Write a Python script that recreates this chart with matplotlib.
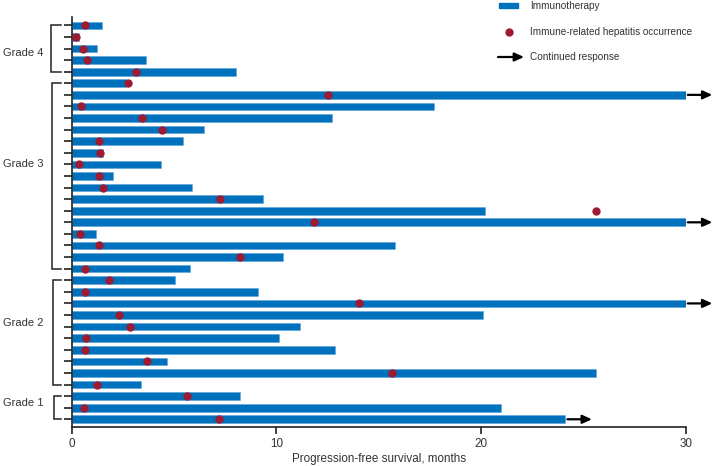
import numpy as np
import matplotlib
matplotlib.use('Agg')
from matplotlib import pyplot as plt
from matplotlib.patches import Rectangle
from matplotlib.lines import Line2D

plt.rcParams['font.family'] = ['Liberation Sans', 'DejaVu Sans']

# one row per patient, top to bottom
grade_labels = ['Grade 4', 'Grade 3', 'Grade 2', 'Grade 1']
group_sizes = [5, 17, 10, 3]

pfs = [1.5, 0.37, 1.26, 3.64, 8.02,
       2.66, 30, 17.72, 12.73, 6.47, 5.45, 1.55, 4.39, 2.01, 5.89, 9.36, 20.2, 30, 1.21, 15.82, 10.33, 5.8,
       5.04, 9.11, 30, 20.1, 11.16, 10.12, 12.86, 4.68, 25.64, 3.41,
       8.25, 21.0, 24.12]
hepatitis = [0.66, 0.24, 0.58, 0.77, 3.15,
             2.76, 12.53, 0.46, 3.44, 4.42, 1.34, 1.38, 0.37, 1.34, 1.55, 7.25, 25.6, 11.86, 0.42, 1.34, 8.22, 0.64,
             1.85, 0.64, 14.06, 2.34, 2.86, 0.71, 0.64, 3.67, 15.66, 1.25,
             5.63, 0.61, 7.2]
continued = [7, 18, 25, 35]  # rows with ongoing response

blue = '#0071BD'
red = '#9E1B32'
txt = '#333333'
arrow_style = '-|>,head_length=0.55,head_width=0.25'

rows = np.arange(1, len(pfs) + 1)

fig = plt.figure(figsize=(7.13, 4.66), dpi=100)
ax = fig.add_axes([71.5 / 713, 1 - 426.7 / 466, (685.7 - 71.5) / 713, (426.7 - 17) / 466])

ax.barh(rows, pfs, height=0.66, color=blue, edgecolor='#5DA5DC', linewidth=0.4, zorder=2)
ax.plot(hepatitis, rows, 'o', color=red, markersize=5, zorder=3, clip_on=False)

for r in continued:
    x0 = pfs[r - 1]
    ax.annotate('', xy=(x0 + 1.3, r), xytext=(x0 + 0.1, r), annotation_clip=False,
                arrowprops=dict(arrowstyle=arrow_style, color='black', lw=1.6, shrinkA=0, shrinkB=0))

ax.set_xlim(0, 30)
ax.set_ylim(35.64, 0.28)
ax.set_xticks([0, 10, 20, 30])
ax.set_yticks(rows)
ax.set_yticklabels([])
ax.tick_params(axis='y', length=6, width=1.2, color='#222222')
ax.tick_params(axis='x', length=5, width=1.2, color='#222222', labelsize=8.4, labelcolor=txt, pad=3)
for s in ['top', 'right']:
    ax.spines[s].set_visible(False)
for s in ['left', 'bottom']:
    ax.spines[s].set_linewidth(1.2)
    ax.spines[s].set_color('#222222')
ax.set_xlabel('Progression-free survival, months', fontsize=8.4, color=txt, labelpad=2)

# grade brackets
bracket_x = [-1.02, -0.94, -0.89, -0.87]
label_y = [3.36, 13.0, 26.7, 33.56]
start = 1
for lab, n, bx, ly in zip(grade_labels, group_sizes, bracket_x, label_y):
    end = start + n - 1
    ax.plot([-0.5, bx, bx, -0.5], [start, start, end, end], color='#222222', lw=1.1,
            clip_on=False, solid_joinstyle='miter')
    ax.text(-1.39, ly, lab, ha='right', va='center', fontsize=8, color=txt)
    start = end + 1

# legend drawn by hand at the top right
def fx(px):
    return px / 713

def fy(py):
    return 1 - py / 466

fig.patches.append(Rectangle((fx(498.5), fy(8.3)), fx(518) - fx(498.5), fy(3.3) - fy(8.3),
                             transform=fig.transFigure, color=blue))
fig.lines.append(Line2D([fx(508.5)], [fy(32.3)], marker='o', color=red, markersize=5,
                        transform=fig.transFigure))
ax.annotate('', xy=(fx(524), fy(57)), xytext=(fx(498), fy(57)), xycoords='figure fraction',
            textcoords='figure fraction', annotation_clip=False,
            arrowprops=dict(arrowstyle=arrow_style, color='black', lw=1.6, shrinkA=0, shrinkB=0))
for py, s in [(6, 'Immunotherapy'), (32.3, 'Immune-related hepatitis occurrence'), (57, 'Continued response')]:
    fig.text(fx(530.5), fy(py), s, ha='left', va='center', fontsize=7.2, color=txt)

fig.savefig('out.png', dpi=100)
